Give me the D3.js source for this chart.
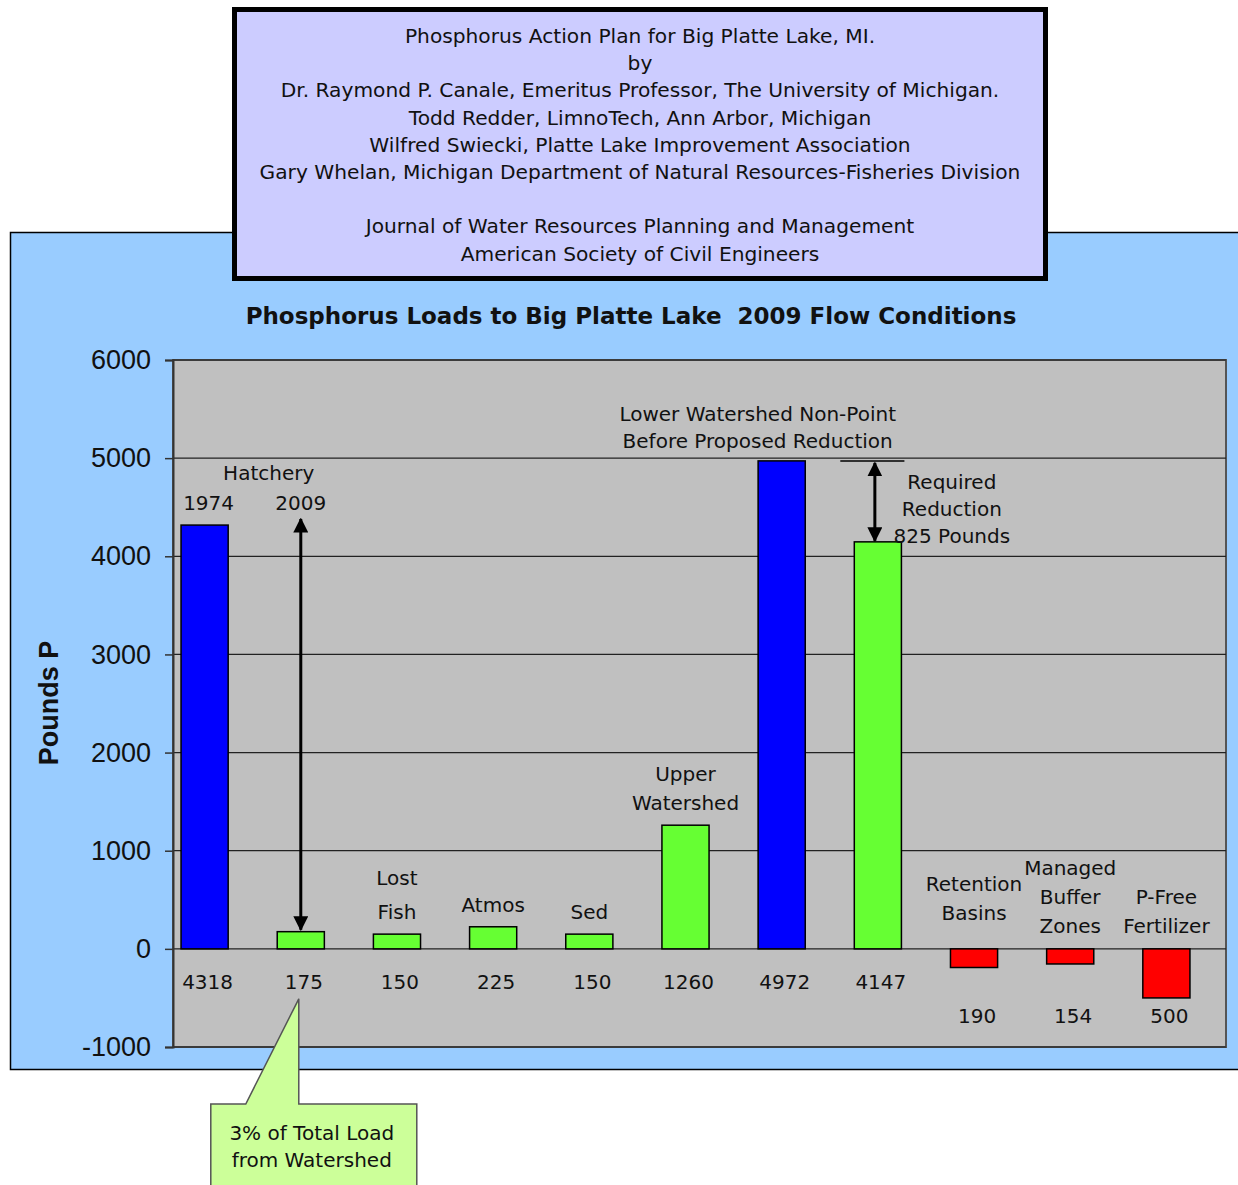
<!DOCTYPE html>
<html>
<head>
<meta charset="utf-8">
<script src="https://cdn.jsdelivr.net/npm/d3@7"></script>
<style>
  body { margin: 0; background: #fff; }
  text { font-family: "DejaVu Sans", Verdana, sans-serif; fill: #111; }
</style>
</head>
<body>
<div id="container"></div>
<script>
const WIDTH = 1238;
const HEIGHT = 1185;

// plot area
const PLOT_LEFT = 173;
const PLOT_RIGHT = 1226;
const PLOT_TOP = 360;
const PLOT_BOTTOM = 1047;

var categories = ["Hatchery 1974", "Hatchery 2009", "Lost Fish", "Atmos", "Sed",
    "Upper Watershed", "Lower Watershed Before", "Lower Watershed After",
    "Retention Basins", "Managed Buffer Zones", "P-Free Fertilizer"];
var loads = [4318, 175, 150, 225, 150, 1260, 4972, 4147, -190, -154, -500];
var valueLabels = ["4318", "175", "150", "225", "150", "1260", "4972", "4147", "190", "154", "500"];
var barKinds = ["before", "after", "after", "after", "after", "after", "before", "after",
    "cut", "cut", "cut"];
var barNotes = [["1974"], ["2009"], ["Lost", "Fish"], ["Atmos"], ["Sed"], ["Upper", "Watershed"],
    [], [], ["Retention", "Basins"], ["Managed", "Buffer", "Zones"], ["P-Free", "Fertilizer"]];
var yTicks = [-1000, 0, 1000, 2000, 3000, 4000, 5000, 6000];
var headerLines = ["Phosphorus Action Plan for Big Platte Lake, MI.", "by",
    "Dr. Raymond P. Canale, Emeritus Professor, The University of Michigan.",
    "Todd Redder, LimnoTech, Ann Arbor, Michigan",
    "Wilfred Swiecki, Platte Lake Improvement Association",
    "Gary Whelan, Michigan Department of Natural Resources-Fisheries Division", "",
    "Journal of Water Resources Planning and Management",
    "American Society of Civil Engineers"];
var chartTitle = "Phosphorus Loads to Big Platte Lake  2009 Flow Conditions";
var yLabel = "Pounds P";
var hatcheryNote = ["Hatchery"];
var lowerNote = ["Lower Watershed Non-Point", "Before Proposed Reduction"];
var reductionNote = ["Required", "Reduction", "825 Pounds"];
var calloutNote = ["3% of Total Load", "from Watershed"];

var colors = {before: "#0000ff", after: "#66ff33", cut: "#ff0000"};

var XScale = d3.scaleBand().domain(categories).range([157, 1214])
    .paddingInner(0.51).paddingOuter(0.25);
var YScale = d3.scaleLinear().domain([-1000, 6000]).range([PLOT_BOTTOM, PLOT_TOP]);

var cx = function (i) { return XScale(categories[i]) + XScale.bandwidth() / 2; };

var SVG = d3.select("#container").append("svg")
    .attr("width", WIDTH).attr("height", HEIGHT);

var defs = SVG.append("defs");
defs.append("marker").attr("id", "head")
    .attr("viewBox", "0 0 10 10").attr("refX", 9).attr("refY", 5)
    .attr("markerWidth", 5).attr("markerHeight", 5).attr("orient", "auto-start-reverse")
    .attr("markerUnits", "strokeWidth")
    .append("path").attr("d", "M0,0 L10,5 L0,10 z").attr("fill", "#000");

var textBlock = function (lines, x, y, lineHeight, size, weight) {
    var t = SVG.append("g");
    lines.forEach(function (line, k) {
        t.append("text").attr("x", x).attr("y", y + k * lineHeight)
            .attr("text-anchor", "middle").attr("font-size", size)
            .attr("font-weight", weight || "normal").text(line);
    });
    return t;
};

// blue panel
SVG.append("rect").attr("x", 10.5).attr("y", 232.5).attr("width", 1240).attr("height", 837)
    .attr("fill", "#99ccff").attr("stroke", "#000").attr("stroke-width", 1.5);

// header box
SVG.append("rect").attr("x", 234.5).attr("y", 9.5).attr("width", 811).attr("height", 269)
    .attr("fill", "#ccccff").attr("stroke", "#000").attr("stroke-width", 5);
textBlock(headerLines, 640, 43, 27.2, 20.2);

// title
textBlock([chartTitle], 631, 324, 0, 23, "bold").select("text").style("white-space", "pre");

// plot background
SVG.append("rect").attr("x", PLOT_LEFT).attr("y", PLOT_TOP)
    .attr("width", PLOT_RIGHT - PLOT_LEFT).attr("height", PLOT_BOTTOM - PLOT_TOP)
    .attr("fill", "#c0c0c0").attr("stroke", "#555").attr("stroke-width", 2);

// grid lines
SVG.append("g").selectAll("line").data(yTicks).join("line")
    .attr("x1", PLOT_LEFT).attr("x2", PLOT_RIGHT)
    .attr("y1", d => YScale(d)).attr("y2", d => YScale(d))
    .attr("stroke", "#222").attr("stroke-width", 1.2);

// y axis
var YAxis = d3.axisLeft(YScale).tickValues(yTicks).tickSize(8).tickPadding(14)
    .tickFormat(d => String(d));
var yAxisG = SVG.append("g").attr("transform", "translate(" + PLOT_LEFT + ",0)").call(YAxis);
yAxisG.select(".domain").attr("stroke", "#333").attr("stroke-width", 2);
yAxisG.selectAll(".tick line").attr("stroke", "#333").attr("stroke-width", 1.5);
yAxisG.selectAll(".tick text").attr("font-size", 27).attr("fill", "#222")
    .style("font-family", "Arial, 'Liberation Sans', sans-serif");

SVG.append("text").attr("transform", "translate(58,703) rotate(-90)")
    .attr("text-anchor", "middle").attr("font-size", 27).attr("font-weight", "bold")
    .style("font-family", "Arial, 'Liberation Sans', sans-serif")
    .text(yLabel);

// bars
SVG.append("g").selectAll("rect").data(loads).join("rect")
    .attr("x", (d, i) => XScale(categories[i]))
    .attr("width", XScale.bandwidth())
    .attr("y", d => YScale(Math.max(d, 0)))
    .attr("height", d => Math.abs(YScale(d) - YScale(0)))
    .attr("fill", (d, i) => colors[barKinds[i]])
    .attr("stroke", "#000").attr("stroke-width", 1.5);

// value labels under the zero line
SVG.append("g").selectAll("text").data(valueLabels).join("text")
    .attr("x", (d, i) => cx(i) + 3)
    .attr("y", (d, i) => loads[i] < 0 ? YScale(0) + 74 : YScale(0) + 40)
    .attr("text-anchor", "middle").attr("font-size", 20).attr("fill", "#222")
    .text(d => d);

// notes above bars
barNotes.forEach(function (lines, i) {
    if (!lines.length) return;
    var top = i === 1 ? YScale(loads[0]) : YScale(Math.max(loads[i], 0));
    var gap = loads[i] < 0 ? (i === 8 ? 29 : 16) : 15;
    var lh = i === 2 ? 34 : 29;
    var first = top - gap - (lines.length - 1) * lh;
    textBlock(lines, cx(i) + (i === 0 ? 4 : 0), first, lh, 20);
});
textBlock(hatcheryNote, (cx(0) + cx(1)) / 2 + 16, YScale(loads[0]) - 45, 0, 20);
textBlock(lowerNote, cx(6) - 24, YScale(loads[6]) - 40, 27, 20);
textBlock(reductionNote, cx(7) + 74, YScale(loads[6]) + 28, 27, 20);

// hatchery arrow: 1974 level down to 2009 bar
SVG.append("line").attr("x1", cx(1)).attr("x2", cx(1))
    .attr("y1", YScale(loads[0]) - 6).attr("y2", YScale(loads[1]) - 2)
    .attr("stroke", "#000").attr("stroke-width", 3)
    .attr("marker-start", "url(#head)").attr("marker-end", "url(#head)");

// required reduction arrow
SVG.append("line").attr("x1", XScale(categories[7]) - 14).attr("x2", XScale(categories[7]) + XScale.bandwidth() + 3)
    .attr("y1", YScale(loads[6])).attr("y2", YScale(loads[6]))
    .attr("stroke", "#000").attr("stroke-width", 1.5);
SVG.append("line").attr("x1", cx(7) - 3).attr("x2", cx(7) - 3)
    .attr("y1", YScale(loads[6]) + 2).attr("y2", YScale(loads[7]) - 1)
    .attr("stroke", "#000").attr("stroke-width", 3)
    .attr("marker-start", "url(#head)").attr("marker-end", "url(#head)");

// callout
var tipX = cx(1) - 2, tipY = YScale(0) + 50;
var boxL = cx(1) - 90, boxR = cx(1) + 116, boxT = 1104, boxB = 1200;
SVG.append("path")
    .attr("d", "M" + boxL + "," + boxT + " L" + (cx(1) - 55) + "," + boxT +
        " L" + tipX + "," + tipY + " L" + tipX + "," + boxT +
        " L" + boxR + "," + boxT + " L" + boxR + "," + boxB + " L" + boxL + "," + boxB + " Z")
    .attr("fill", "#ccff99").attr("stroke", "#555").attr("stroke-width", 1.5);
textBlock(calloutNote, cx(1) + 11, 1140, 27, 20);
</script>
</body>
</html>
